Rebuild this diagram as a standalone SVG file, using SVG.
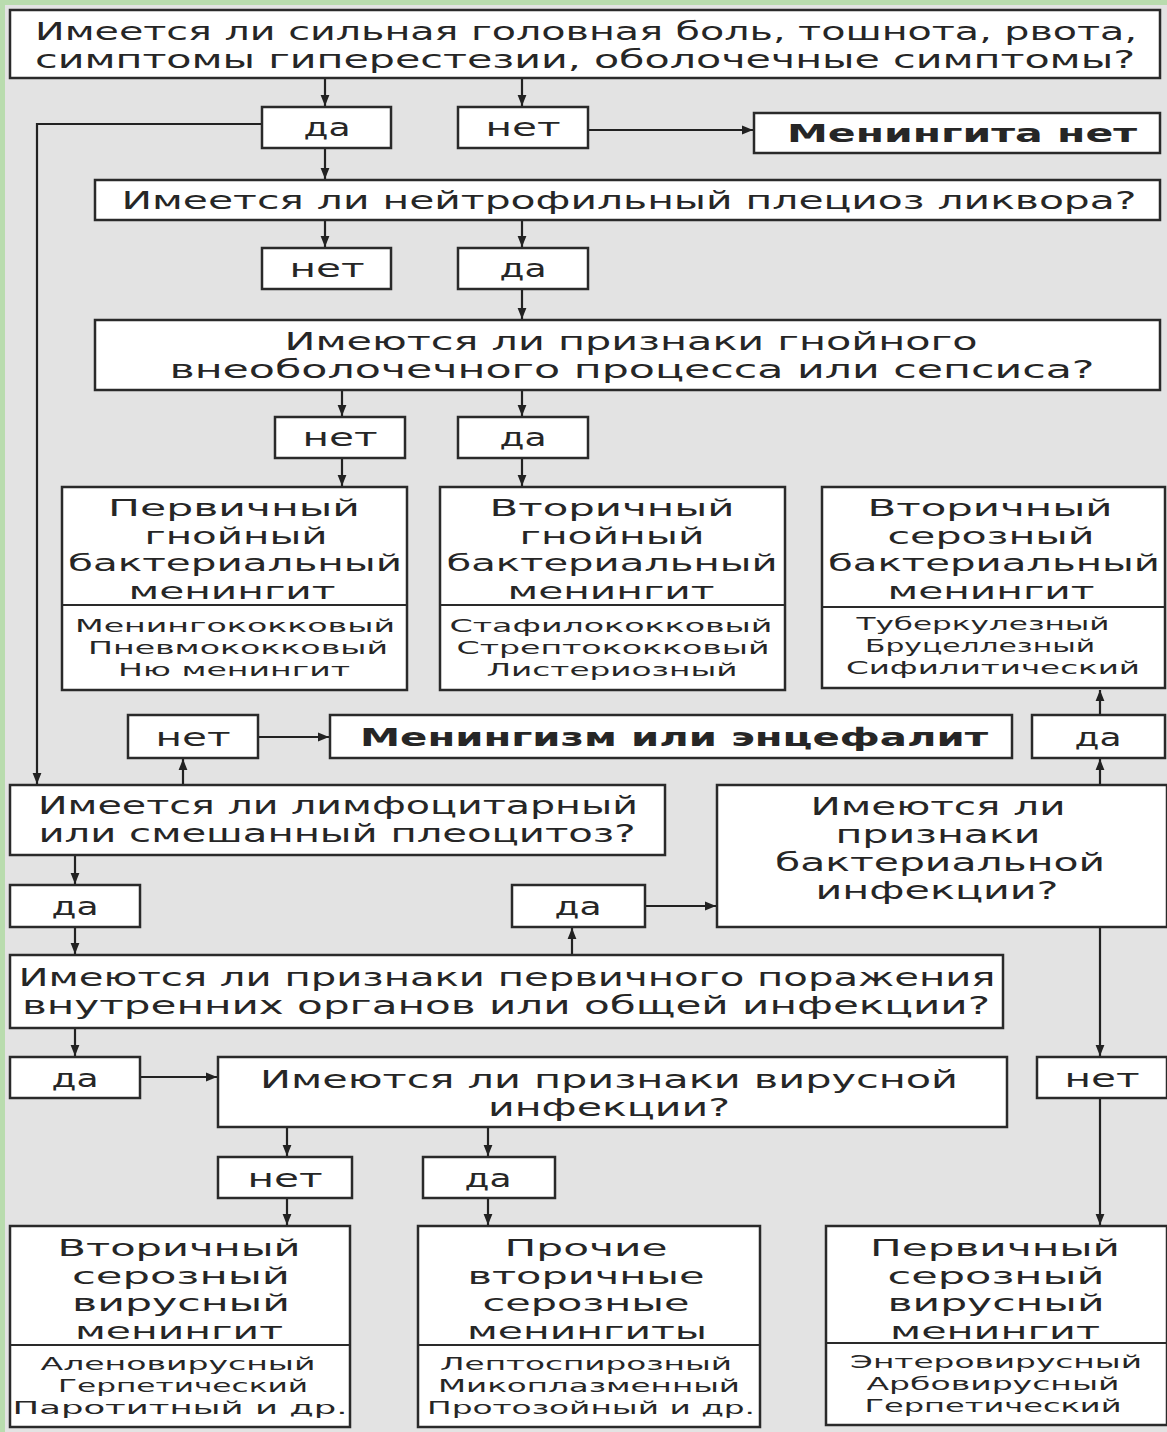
<svg xmlns="http://www.w3.org/2000/svg" width="1167" height="1432" viewBox="0 0 1167 1432">
<defs>
<marker id="ah" viewBox="0 0 10 10" refX="10" refY="5" markerWidth="5" markerHeight="5" orient="auto" markerUnits="strokeWidth">
<path d="M0,1 L10,5 L0,9 z" fill="#222"/>
</marker>
<style>
.b{fill:#fff;stroke:#2a2a2a;stroke-width:2.5}
.t{font-family:"DejaVu Sans","Noto Sans",sans-serif;font-size:24px;fill:#262626;text-anchor:middle}
.h{font-family:"DejaVu Sans","Noto Sans",sans-serif;font-size:23.5px;fill:#262626;text-anchor:middle}
.bd{font-weight:bold}
.s{font-family:"DejaVu Sans","Noto Sans",sans-serif;font-size:18.5px;fill:#262626;text-anchor:middle}
.c{fill:none;stroke:#222;stroke-width:2.2;marker-end:url(#ah)}
.d{stroke:#2a2a2a;stroke-width:2}
</style>
</defs>
<rect x="0" y="0" width="1167" height="1432" fill="#e3e3e3"/>
<rect x="0" y="0" width="1167" height="5" fill="#b9dcae"/>
<rect x="0" y="0" width="5" height="1432" fill="#b9dcae"/>

<g id="connectors">
<path class="c" d="M325,78 V106"/>
<path class="c" d="M522,78 V106"/>
<path class="c" d="M325,148 V179"/>
<path class="c" d="M588,130 H753"/>
<path class="c" d="M262,124 H37 V784"/>
<path class="c" d="M325,220 V247"/>
<path class="c" d="M522,220 V247"/>
<path class="c" d="M522,289 V319"/>
<path class="c" d="M342,390 V416"/>
<path class="c" d="M522,390 V416"/>
<path class="c" d="M342,458 V486"/>
<path class="c" d="M522,458 V486"/>
<path class="c" d="M1100,715 V690"/>
<path class="c" d="M1100,785 V759"/>
<path class="c" d="M183,785 V759"/>
<path class="c" d="M258,737 H329"/>
<path class="c" d="M75,855 V884"/>
<path class="c" d="M75,927 V954"/>
<path class="c" d="M572,955 V928"/>
<path class="c" d="M645,906 H716"/>
<path class="c" d="M1100,927 V1056"/>
<path class="c" d="M1100,1098 V1225"/>
<path class="c" d="M75,1028 V1056"/>
<path class="c" d="M140,1077 H217"/>
<path class="c" d="M287,1127 V1156"/>
<path class="c" d="M488,1127 V1156"/>
<path class="c" d="M287,1198 V1225"/>
<path class="c" d="M488,1198 V1225"/>
</g>

<g id="q1">
<rect class="b" x="10" y="10" width="1150" height="68"/>
<text class="t" x="586" y="40" textLength="1102" lengthAdjust="spacingAndGlyphs">Имеется ли сильная головная боль, тошнота, рвота,</text>
<text class="t" x="585" y="68" textLength="1100" lengthAdjust="spacingAndGlyphs">симптомы гиперестезии, оболочечные симптомы?</text>
</g>
<g id="q1-yes"><rect class="b" x="262" y="107" width="129" height="41"/><text class="t" x="327" y="136" textLength="47" lengthAdjust="spacingAndGlyphs">да</text></g>
<g id="q1-no"><rect class="b" x="458" y="107" width="130" height="41"/><text class="t" x="523" y="136" textLength="75" lengthAdjust="spacingAndGlyphs">нет</text></g>
<g id="no-meningitis"><rect class="b" x="754" y="113" width="406" height="40"/><text class="t bd" x="962" y="142" textLength="350" lengthAdjust="spacingAndGlyphs">Менингита нет</text></g>

<g id="q2">
<rect class="b" x="95" y="180" width="1065" height="40"/>
<text class="t" x="629" y="209" textLength="1015" lengthAdjust="spacingAndGlyphs">Имеется ли нейтрофильный плециоз ликвора?</text>
</g>
<g id="q2-no"><rect class="b" x="262" y="248" width="129" height="41"/><text class="t" x="327" y="277" textLength="75" lengthAdjust="spacingAndGlyphs">нет</text></g>
<g id="q2-yes"><rect class="b" x="458" y="248" width="130" height="41"/><text class="t" x="523" y="277" textLength="47" lengthAdjust="spacingAndGlyphs">да</text></g>

<g id="q3">
<rect class="b" x="95" y="320" width="1065" height="70"/>
<text class="t" x="631" y="350" textLength="693" lengthAdjust="spacingAndGlyphs">Имеются ли признаки гнойного</text>
<text class="t" x="632" y="378" textLength="925" lengthAdjust="spacingAndGlyphs">внеоболочечного процесса или сепсиса?</text>
</g>
<g id="q3-no"><rect class="b" x="275" y="417" width="130" height="41"/><text class="t" x="340" y="446" textLength="75" lengthAdjust="spacingAndGlyphs">нет</text></g>
<g id="q3-yes"><rect class="b" x="458" y="417" width="130" height="41"/><text class="t" x="523" y="446" textLength="47" lengthAdjust="spacingAndGlyphs">да</text></g>

<g id="primary-purulent">
<rect class="b" x="62" y="487" width="345" height="203"/>
<line class="d" x1="62" y1="605" x2="407" y2="605"/>
<text class="h" x="234" y="516" textLength="252" lengthAdjust="spacingAndGlyphs">Первичный</text>
<text class="h" x="236" y="543.5" textLength="183" lengthAdjust="spacingAndGlyphs">гнойный</text>
<text class="h" x="235" y="571" textLength="334" lengthAdjust="spacingAndGlyphs">бактериальный</text>
<text class="h" x="232" y="598.5" textLength="207" lengthAdjust="spacingAndGlyphs">менингит</text>
<text class="s" x="235" y="632" textLength="320" lengthAdjust="spacingAndGlyphs">Менингококковый</text>
<text class="s" x="238" y="654" textLength="300" lengthAdjust="spacingAndGlyphs">Пневмококковый</text>
<text class="s" x="234" y="676" textLength="232" lengthAdjust="spacingAndGlyphs">Ню менингит</text>
</g>
<g id="secondary-purulent">
<rect class="b" x="440" y="487" width="345" height="203"/>
<line class="d" x1="440" y1="605" x2="785" y2="605"/>
<text class="h" x="612" y="516" textLength="245" lengthAdjust="spacingAndGlyphs">Вторичный</text>
<text class="h" x="612" y="543.5" textLength="185" lengthAdjust="spacingAndGlyphs">гнойный</text>
<text class="h" x="612" y="571" textLength="331" lengthAdjust="spacingAndGlyphs">бактериальный</text>
<text class="h" x="611" y="598.5" textLength="207" lengthAdjust="spacingAndGlyphs">менингит</text>
<text class="s" x="611" y="632" textLength="323" lengthAdjust="spacingAndGlyphs">Стафилококковый</text>
<text class="s" x="613" y="654" textLength="313" lengthAdjust="spacingAndGlyphs">Стрептококковый</text>
<text class="s" x="612" y="676" textLength="251" lengthAdjust="spacingAndGlyphs">Листериозный</text>
</g>
<g id="secondary-serous-bacterial">
<rect class="b" x="822" y="487" width="343" height="201"/>
<line class="d" x1="822" y1="607" x2="1165" y2="607"/>
<text class="h" x="990" y="516" textLength="245" lengthAdjust="spacingAndGlyphs">Вторичный</text>
<text class="h" x="991" y="543.5" textLength="207" lengthAdjust="spacingAndGlyphs">серозный</text>
<text class="h" x="994" y="571" textLength="332" lengthAdjust="spacingAndGlyphs">бактериальный</text>
<text class="h" x="991" y="598.5" textLength="207" lengthAdjust="spacingAndGlyphs">менингит</text>
<text class="s" x="983" y="630" textLength="253" lengthAdjust="spacingAndGlyphs">Туберкулезный</text>
<text class="s" x="980" y="652" textLength="230" lengthAdjust="spacingAndGlyphs">Бруцеллезный</text>
<text class="s" x="993" y="674" textLength="294" lengthAdjust="spacingAndGlyphs">Сифилитический</text>
</g>

<g id="q4-no"><rect class="b" x="128" y="715" width="130" height="43"/><text class="t" x="193" y="746" textLength="75" lengthAdjust="spacingAndGlyphs">нет</text></g>
<g id="meningism"><rect class="b" x="330" y="715" width="682" height="43"/><text class="t bd" x="674" y="746" textLength="628" lengthAdjust="spacingAndGlyphs">Менингизм или энцефалит</text></g>
<g id="q5-yes"><rect class="b" x="1032" y="715" width="133" height="43"/><text class="t" x="1098" y="746" textLength="47" lengthAdjust="spacingAndGlyphs">да</text></g>

<g id="q4">
<rect class="b" x="10" y="785" width="655" height="70"/>
<text class="t" x="338" y="814" textLength="600" lengthAdjust="spacingAndGlyphs">Имеется ли лимфоцитарный</text>
<text class="t" x="337" y="842" textLength="597" lengthAdjust="spacingAndGlyphs">или смешанный плеоцитоз?</text>
</g>
<g id="q5">
<rect class="b" x="717" y="785" width="450" height="142"/>
<text class="t" x="938" y="815" textLength="255" lengthAdjust="spacingAndGlyphs">Имеются ли</text>
<text class="t" x="938" y="843" textLength="205" lengthAdjust="spacingAndGlyphs">признаки</text>
<text class="t" x="940" y="871" textLength="330" lengthAdjust="spacingAndGlyphs">бактериальной</text>
<text class="t" x="937" y="899" textLength="243" lengthAdjust="spacingAndGlyphs">инфекции?</text>
</g>
<g id="q4-yes"><rect class="b" x="10" y="885" width="130" height="42"/><text class="t" x="75" y="915" textLength="47" lengthAdjust="spacingAndGlyphs">да</text></g>
<g id="q6-yes"><rect class="b" x="512" y="885" width="133" height="42"/><text class="t" x="578" y="915" textLength="47" lengthAdjust="spacingAndGlyphs">да</text></g>

<g id="q6">
<rect class="b" x="10" y="955" width="993" height="73"/>
<text class="t" x="507" y="986" textLength="977" lengthAdjust="spacingAndGlyphs">Имеются ли признаки первичного поражения</text>
<text class="t" x="506" y="1014" textLength="968" lengthAdjust="spacingAndGlyphs">внутренних органов или общей инфекции?</text>
</g>
<g id="q6-yes2"><rect class="b" x="10" y="1057" width="130" height="41"/><text class="t" x="75" y="1087" textLength="47" lengthAdjust="spacingAndGlyphs">да</text></g>
<g id="q7">
<rect class="b" x="218" y="1057" width="789" height="70"/>
<text class="t" x="609" y="1088" textLength="698" lengthAdjust="spacingAndGlyphs">Имеются ли признаки вирусной</text>
<text class="t" x="609" y="1116" textLength="242" lengthAdjust="spacingAndGlyphs">инфекции?</text>
</g>
<g id="q5-no"><rect class="b" x="1037" y="1057" width="130" height="41"/><text class="t" x="1102" y="1087" textLength="75" lengthAdjust="spacingAndGlyphs">нет</text></g>
<g id="q7-no"><rect class="b" x="218" y="1157" width="134" height="41"/><text class="t" x="285" y="1187" textLength="75" lengthAdjust="spacingAndGlyphs">нет</text></g>
<g id="q7-yes"><rect class="b" x="423" y="1157" width="132" height="41"/><text class="t" x="488" y="1187" textLength="47" lengthAdjust="spacingAndGlyphs">да</text></g>

<g id="secondary-serous-viral">
<rect class="b" x="10" y="1226" width="340" height="201"/>
<line class="d" x1="10" y1="1345" x2="350" y2="1345"/>
<text class="h" x="179" y="1256" textLength="243" lengthAdjust="spacingAndGlyphs">Вторичный</text>
<text class="h" x="181" y="1283.5" textLength="218" lengthAdjust="spacingAndGlyphs">серозный</text>
<text class="h" x="181" y="1311" textLength="218" lengthAdjust="spacingAndGlyphs">вирусный</text>
<text class="h" x="179" y="1338.5" textLength="208" lengthAdjust="spacingAndGlyphs">менингит</text>
<text class="s" x="178" y="1370" textLength="275" lengthAdjust="spacingAndGlyphs">Аленовирусный</text>
<text class="s" x="183" y="1392" textLength="250" lengthAdjust="spacingAndGlyphs">Герпетический</text>
<text class="s" x="180" y="1414" textLength="335" lengthAdjust="spacingAndGlyphs">Паротитный и др.</text>
</g>
<g id="other-secondary-serous">
<rect class="b" x="418" y="1226" width="342" height="201"/>
<line class="d" x1="418" y1="1345" x2="760" y2="1345"/>
<text class="h" x="586" y="1256" textLength="163" lengthAdjust="spacingAndGlyphs">Прочие</text>
<text class="h" x="586" y="1283.5" textLength="237" lengthAdjust="spacingAndGlyphs">вторичные</text>
<text class="h" x="586" y="1311" textLength="207" lengthAdjust="spacingAndGlyphs">серозные</text>
<text class="h" x="587" y="1338.5" textLength="240" lengthAdjust="spacingAndGlyphs">менингиты</text>
<text class="s" x="586" y="1370" textLength="292" lengthAdjust="spacingAndGlyphs">Лептоспирозный</text>
<text class="s" x="589" y="1392" textLength="302" lengthAdjust="spacingAndGlyphs">Микоплазменный</text>
<text class="s" x="591" y="1414" textLength="328" lengthAdjust="spacingAndGlyphs">Протозойный и др.</text>
</g>
<g id="primary-serous-viral">
<rect class="b" x="826" y="1226" width="341" height="199"/>
<line class="d" x1="826" y1="1343" x2="1167" y2="1343"/>
<text class="h" x="995" y="1256" textLength="250" lengthAdjust="spacingAndGlyphs">Первичный</text>
<text class="h" x="996" y="1283.5" textLength="217" lengthAdjust="spacingAndGlyphs">серозный</text>
<text class="h" x="996" y="1311" textLength="217" lengthAdjust="spacingAndGlyphs">вирусный</text>
<text class="h" x="995" y="1338.5" textLength="210" lengthAdjust="spacingAndGlyphs">менингит</text>
<text class="s" x="996" y="1368" textLength="292" lengthAdjust="spacingAndGlyphs">Энтеровирусный</text>
<text class="s" x="993" y="1390" textLength="253" lengthAdjust="spacingAndGlyphs">Арбовирусный</text>
<text class="s" x="993" y="1412" textLength="257" lengthAdjust="spacingAndGlyphs">Герпетический</text>
</g>
</svg>
